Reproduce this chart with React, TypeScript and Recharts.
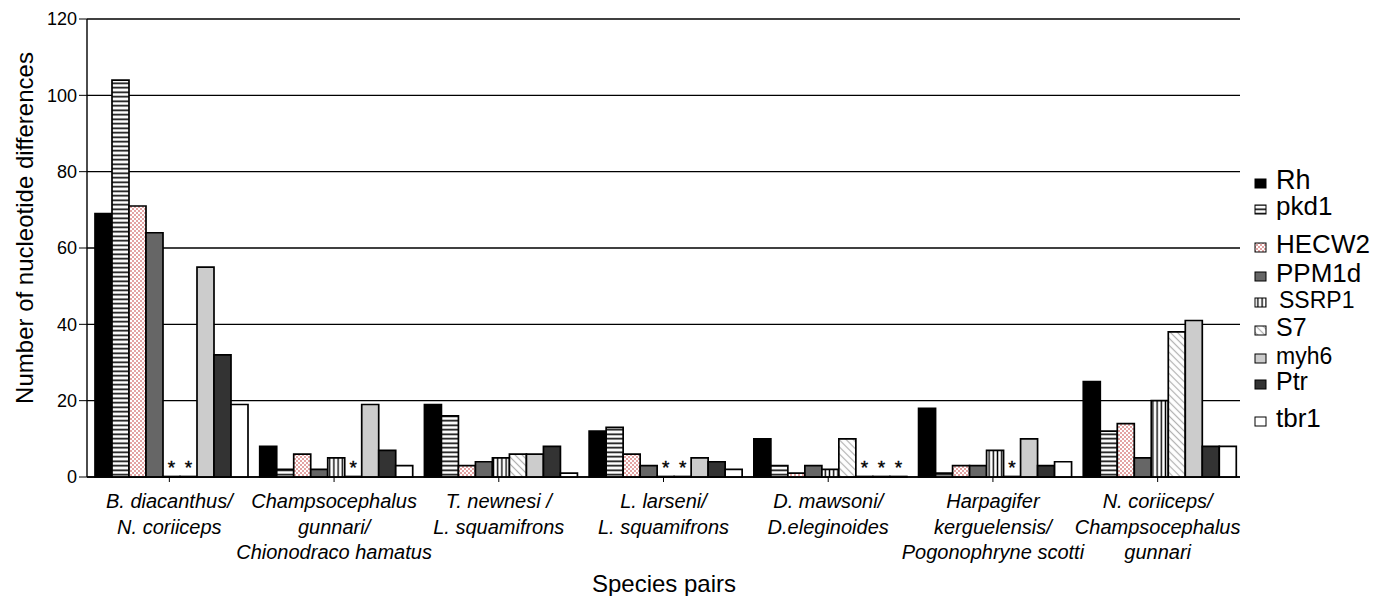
import React from 'react';
import { BarChart, Bar, XAxis, YAxis, CartesianGrid, LabelList } from 'recharts';

const FONT = '"Liberation Sans", Arial, sans-serif';

// species pairs, one entry per category, lines separated by "|"
const PAIRS = [
  'B. diacanthus/|N. coriiceps',
  'Champsocephalus|gunnari/|Chionodraco hamatus',
  'T. newnesi /|L. squamifrons',
  'L. larseni/|L. squamifrons',
  'D. mawsoni/|D.eleginoides',
  'Harpagifer|kerguelensis/|Pogonophryne scotti',
  'N. coriiceps/|Champsocephalus|gunnari',
];

// null = no data (drawn as "*")
const Rh = [69, 8, 19, 12, 10, 18, 25];
const pkd1 = [104, 2, 16, 13, 3, 1, 12];
const HECW2 = [71, 6, 3, 6, 1, 3, 14];
const PPM1d = [64, 2, 4, 3, 3, 3, 5];
const SSRP1 = [null, 5, 5, null, 2, 7, 20];
const S7 = [null, null, 6, null, 10, null, 38];
const myh6 = [55, 19, 6, 5, null, 10, 41];
const Ptr = [32, 7, 8, 4, null, 3, 8];
const tbr1 = [19, 3, 1, 2, null, 4, 8];

const Y_TICKS = [0, 20, 40, 60, 80, 100, 120];

const SERIES = [
  { key: 'Rh', values: Rh, fill: '#000000' },
  { key: 'pkd1', values: pkd1, fill: 'url(#hstripe)' },
  { key: 'HECW2', values: HECW2, fill: 'url(#pinkcheck)' },
  { key: 'PPM1d', values: PPM1d, fill: '#666666' },
  { key: 'SSRP1', values: SSRP1, fill: 'url(#vstripe)' },
  { key: 'S7', values: S7, fill: 'url(#diag)' },
  { key: 'myh6', values: myh6, fill: '#cccccc' },
  { key: 'Ptr', values: Ptr, fill: '#333333' },
  { key: 'tbr1', values: tbr1, fill: '#ffffff' },
];

// legend layout: baseline y, font size, text x
const LEGEND_LAYOUT = [
  { y: 189, size: 27, tx: 1276 },
  { y: 215, size: 26, tx: 1276 },
  { y: 253, size: 26, tx: 1276 },
  { y: 282, size: 26, tx: 1276 },
  { y: 308, size: 23, tx: 1279 },
  { y: 336, size: 25, tx: 1276 },
  { y: 364, size: 23, tx: 1276 },
  { y: 390, size: 25, tx: 1276 },
  { y: 427, size: 26, tx: 1276 },
];

const tableData = PAIRS.map((pair, i) => {
  const row: Record<string, any> = { pair };
  SERIES.forEach(s => {
    row[s.key] = s.values[i] ?? 0;
    row[s.key + '_missing'] = s.values[i] == null ? '*' : '';
  });
  return row;
});

function Patterns() {
  return (
    <svg width={0} height={0} style={{ position: 'absolute' }}>
      <defs>
        <pattern id="hstripe" patternUnits="userSpaceOnUse" width={6} height={4.5}>
          <rect width={6} height={4.5} fill="#fff" />
          <line x1={0} y1={2.25} x2={6} y2={2.25} stroke="#000" strokeWidth={1.6} />
        </pattern>
        <pattern id="vstripe" patternUnits="userSpaceOnUse" width={4.2} height={6}>
          <rect width={4.2} height={6} fill="#fff" />
          <line x1={2.1} y1={0} x2={2.1} y2={6} stroke="#000" strokeWidth={1.4} />
        </pattern>
        <pattern id="pinkcheck" patternUnits="userSpaceOnUse" width={4} height={4}>
          <rect width={4} height={4} fill="#fff" />
          <rect x={0} y={0} width={2} height={2} fill="#e3a3a3" />
          <rect x={2} y={2} width={2} height={2} fill="#e3a3a3" />
        </pattern>
        <pattern id="diag" patternUnits="userSpaceOnUse" width={5} height={5} patternTransform="rotate(-45)">
          <rect width={5} height={5} fill="#fff" />
          <line x1={2.5} y1={0} x2={2.5} y2={5} stroke="#b0b0b0" strokeWidth={1.2} />
        </pattern>
      </defs>
    </svg>
  );
}

function PairTick(props: any) {
  const { x, y, payload } = props;
  const lines = String(payload.value).split('|');
  return (
    <text x={x} y={y} textAnchor="middle" fontStyle="italic" fontSize={20} fill="#000" fontFamily={FONT}>
      {lines.map((l, i) => (
        <tspan key={i} x={x} dy={i === 0 ? 24 : 25.5}>{l}</tspan>
      ))}
    </text>
  );
}

// "*" for pairs without data
const renderMissing = (key: string) => (props: any) => {
  const vb = props.viewBox || {};
  const x = props.x ?? vb.x;
  const width = props.width ?? vb.width;
  const missing = props.value === '*' || (props.payload && props.payload[key + '_missing'] === '*');
  if (!missing || x == null) return null;
  return (
    <text x={Number(x) + Number(width) / 2} y={474} textAnchor="middle" fontSize={19} fill="#000" stroke="#000" strokeWidth={0.4} fontFamily={FONT}>*</text>
  );
};

function YTitle() {
  return (
    <text x={33} y={228} transform="rotate(-90 33 228)" textAnchor="middle" fontSize={24} fill="#000" fontFamily={FONT}>
      Number of nucleotide differences
    </text>
  );
}

function XTitle() {
  return (
    <text x={664} y={592} textAnchor="middle" fontSize={24} fill="#000" fontFamily={FONT}>
      Species pairs
    </text>
  );
}

function SideLegend() {
  return (
    <svg width={1389} height={596} style={{ position: 'absolute', left: 0, top: 0, pointerEvents: 'none' }}>
      {SERIES.map((s, i) => {
        const l = LEGEND_LAYOUT[i];
        return (
          <g key={s.key}>
            <rect x={1255} y={l.y - 10} width={11} height={9} fill={s.fill} stroke="#000" strokeWidth={1} />
            <text x={l.tx} y={l.y} fontSize={l.size} fill="#000" fontFamily={FONT}>{s.key}</text>
          </g>
        );
      })}
    </svg>
  );
}

export default function App() {
  return (
    <div style={{ position: 'absolute', left: 0, top: 0, width: 1389, height: 596, background: '#fff', fontFamily: FONT }}>
      <Patterns />
      <BarChart
        width={1389}
        height={596}
        data={tableData}
        margin={{ top: 19, right: 149, bottom: 0, left: 0 }}
        barCategoryGap={8}
        barGap={0}
      >
        <CartesianGrid vertical={false} stroke="#000" strokeWidth={1.4} />
        <XAxis
          dataKey="pair"
          height={119}
          interval={0}
          tick={<PairTick />}
          tickSize={5}
          axisLine={{ stroke: '#000', strokeWidth: 1.4 }}
          tickLine={{ stroke: '#000' }}
          label={<XTitle />}
        />
        <YAxis
          type="number"
          domain={[0, 120]}
          ticks={Y_TICKS}
          width={87}
          tickSize={8}
          tick={{ fill: '#000', fontSize: 18, fontFamily: FONT }}
          axisLine={{ stroke: '#000', strokeWidth: 1.4 }}
          tickLine={{ stroke: '#000' }}
          label={<YTitle />}
        />
        <YAxis
          yAxisId="r"
          orientation="right"
          type="number"
          domain={[0, 120]}
          width={0}
          tick={false}
          tickLine={false}
          axisLine={{ stroke: '#000', strokeWidth: 1.4 }}
        />
        {SERIES.map(s => (
          <Bar
            key={s.key}
            dataKey={s.key}
            fill={s.fill}
            stroke="#000"
            strokeWidth={1.7}
            isAnimationActive={false}
            minPointSize={(v: any, i: number) => (s.values[i] == null ? 0.5 : 0)}
          >
            <LabelList dataKey={s.key + '_missing'} content={renderMissing(s.key)} />
          </Bar>
        ))}
      </BarChart>
      <SideLegend />
    </div>
  );
}
